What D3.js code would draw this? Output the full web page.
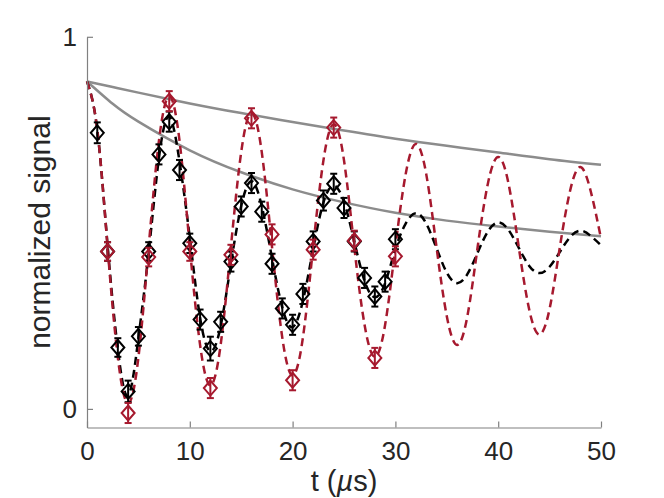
<!DOCTYPE html>
<html>
<head>
<meta charset="utf-8">
<script src="https://cdn.jsdelivr.net/npm/d3@7"></script>
<style>
  body { margin: 0; background: #fff; }
  text { font-family: "Liberation Sans", Arial, Helvetica, sans-serif; fill: #262626; }
</style>
</head>
<body>
<div id="chart"></div>
<script>
/* DATA */
// black measurement, every 1 us
const blackT = [1,2,3,4,5,6,7,8,9,10,11,12,13,14,15,16,17,18,19,20,21,22,23,24,25,26,27,28,29,30];
const blackV = [0.742,0.423,0.165,0.047,0.195,0.423,0.684,0.772,0.642,0.445,0.240,0.162,0.234,0.396,0.544,0.607,0.530,0.390,0.270,0.226,0.309,0.450,0.560,0.605,0.540,0.450,0.352,0.302,0.342,0.456];
const blackErr = [0.028,0.025,0.025,0.029,0.025,0.025,0.027,0.027,0.027,0.026,0.027,0.032,0.027,0.027,0.027,0.027,0.027,0.027,0.027,0.027,0.027,0.027,0.027,0.027,0.027,0.027,0.027,0.027,0.027,0.027];

// red measurement, every 2 us
const redT = [2,4,6,8,10,12,14,16,18,20,22,24,26,28,30];
const redV = [0.423,-0.011,0.408,0.827,0.423,0.056,0.414,0.781,0.469,0.077,0.428,0.756,0.452,0.137,0.410];
const redErr = [0.025,0.027,0.025,0.027,0.025,0.027,0.027,0.027,0.027,0.027,0.027,0.027,0.027,0.027,0.027];

// fitted curves (read every 1 us)
const fitT = [0,1,2,3,4,5,6,7,8,9,10,11,12,13,14,15,16,17,18,19,20,21,22,23,24,25,26,27,28,29,30,31,32,33,34,35,36,37,38,39,40,41,42,43,44,45,46,47,48,49,50];
const blackFit = [0.88,0.75,0.44,0.16,0.035,0.19,0.42,0.675,0.785,0.665,0.46,0.245,0.155,0.222,0.39,0.545,0.612,0.545,0.405,0.272,0.22,0.29,0.43,0.555,0.60,0.556,0.45,0.344,0.30,0.338,0.43,0.498,0.526,0.498,0.432,0.366,0.338,0.362,0.42,0.477,0.501,0.481,0.433,0.385,0.365,0.382,0.422,0.462,0.479,0.465,0.44];
const redFit = [0.88,0.750,0.435,0.138,0.015,0.138,0.435,0.721,0.84,0.721,0.435,0.172,0.063,0.172,0.435,0.690,0.795,0.690,0.435,0.191,0.09,0.191,0.435,0.668,0.765,0.668,0.435,0.226,0.14,0.226,0.435,0.631,0.712,0.631,0.435,0.249,0.172,0.249,0.435,0.606,0.677,0.606,0.435,0.269,0.20,0.269,0.435,0.587,0.65,0.585,0.458];

// decay envelopes
const envT = [0,2.5,5,10,15,20,25,30,35,40,45,50];
const envUpper = [0.88,0.865,0.850,0.821,0.795,0.771,0.748,0.726,0.707,0.689,0.671,0.656];
const envLower = [0.88,0.82,0.772,0.695,0.636,0.590,0.555,0.527,0.506,0.490,0.476,0.464];

const xTicks = [0,10,20,30,40,50];
const yTicks = [0,1];

/* CONSTANTS */
const width = 664, height = 498;
const margin = { top: 36.8, bottom: 70.5, left: 87, right: 63 };
const red = "#a6192e", black = "#000000", gray = "#8c8c8c";

const svg = d3.select("#chart").append("svg")
  .attr("width", width)
  .attr("height", height);

const xScale = d3.scaleLinear()
  .domain([0, 50])
  .range([margin.left, width - margin.right]);

const yScale = d3.scaleLinear()
  .domain([-0.05, 1])
  .range([height - margin.bottom, margin.top]);

// envelopes
const envLine = d3.line().x(d => xScale(d[0])).y(d => yScale(d[1])).curve(d3.curveNatural);
[envUpper, envLower].forEach(env => {
  svg.append("path")
    .datum(d3.zip(envT, env))
    .attr("d", envLine)
    .attr("fill", "none")
    .attr("stroke", gray)
    .attr("stroke-width", 2.5);
});

// dashed fits
const fitLine = d3.line().x(d => xScale(d[0])).y(d => yScale(d[1])).curve(d3.curveNatural);
svg.append("path")
  .datum(d3.zip(fitT, blackFit))
  .attr("d", fitLine)
  .attr("fill", "none")
  .attr("stroke", black)
  .attr("stroke-width", 2.5)
  .attr("stroke-dasharray", "8,5");

svg.append("path")
  .datum(d3.zip(fitT, redFit))
  .attr("d", fitLine)
  .attr("fill", "none")
  .attr("stroke", red)
  .attr("stroke-width", 2.5)
  .attr("stroke-dasharray", "8,5");

// markers with error bars
const diamond = "M0,-7.5L6.5,0L0,7.5L-6.5,0Z";
function drawSeries(ts, vs, es, color) {
  const data = ts.map((t, i) => ({ t: t, v: vs[i], e: es[i] }));
  const g = svg.append("g")
    .attr("stroke", color)
    .attr("stroke-width", 2)
    .attr("fill", "none");
  const pt = g.selectAll("g.pt")
    .data(data)
    .join("g")
    .attr("class", "pt");
  pt.append("line")
    .attr("x1", d => xScale(d.t)).attr("x2", d => xScale(d.t))
    .attr("y1", d => yScale(d.v - d.e)).attr("y2", d => yScale(d.v + d.e));
  pt.append("line")
    .attr("x1", d => xScale(d.t) - 3.5).attr("x2", d => xScale(d.t) + 3.5)
    .attr("y1", d => yScale(d.v + d.e)).attr("y2", d => yScale(d.v + d.e));
  pt.append("line")
    .attr("x1", d => xScale(d.t) - 3.5).attr("x2", d => xScale(d.t) + 3.5)
    .attr("y1", d => yScale(d.v - d.e)).attr("y2", d => yScale(d.v - d.e));
  pt.append("path")
    .attr("d", diamond)
    .attr("transform", d => `translate(${xScale(d.t)},${yScale(d.v)})`);
}
drawSeries(blackT, blackV, blackErr, black);
drawSeries(redT, redV, redErr, red);

// axes
const xAxis = d3.axisBottom(xScale).tickValues(xTicks).tickFormat(d3.format("d"))
  .tickSizeInner(-6).tickSizeOuter(0).tickPadding(14);
const yAxis = d3.axisLeft(yScale).tickValues(yTicks).tickFormat(d3.format("d"))
  .tickSizeInner(-6).tickSizeOuter(0).tickPadding(10);

const xAxisGroup = svg.append("g")
  .attr("transform", `translate(0, ${height - margin.bottom})`)
  .call(xAxis);
const yAxisGroup = svg.append("g")
  .attr("transform", `translate(${margin.left}, 0)`)
  .call(yAxis);

[xAxisGroup, yAxisGroup].forEach(g => {
  g.select(".domain").attr("stroke", "#808080").attr("stroke-width", 1.2);
  g.selectAll(".tick line").attr("stroke", "#808080").attr("stroke-width", 1.2);
  g.selectAll(".tick text")
    .attr("fill", "#262626")
    .attr("font-size", 26)
    .attr("font-family", "Liberation Sans, Arial, sans-serif");
});

// axis titles
const xTitle = svg.append("text")
  .attr("x", (margin.left + width - margin.right) / 2)
  .attr("y", 491)
  .attr("text-anchor", "middle")
  .attr("font-size", 29);
xTitle.append("tspan").text("t (");
xTitle.append("tspan").attr("font-style", "italic").text("µ");
xTitle.append("tspan").text("s)");

svg.append("text")
  .attr("transform", `translate(50, ${(margin.top + height - margin.bottom) / 2}) rotate(-90)`)
  .attr("text-anchor", "middle")
  .attr("font-size", 30)
  .text("normalized signal");
</script>
</body>
</html>
